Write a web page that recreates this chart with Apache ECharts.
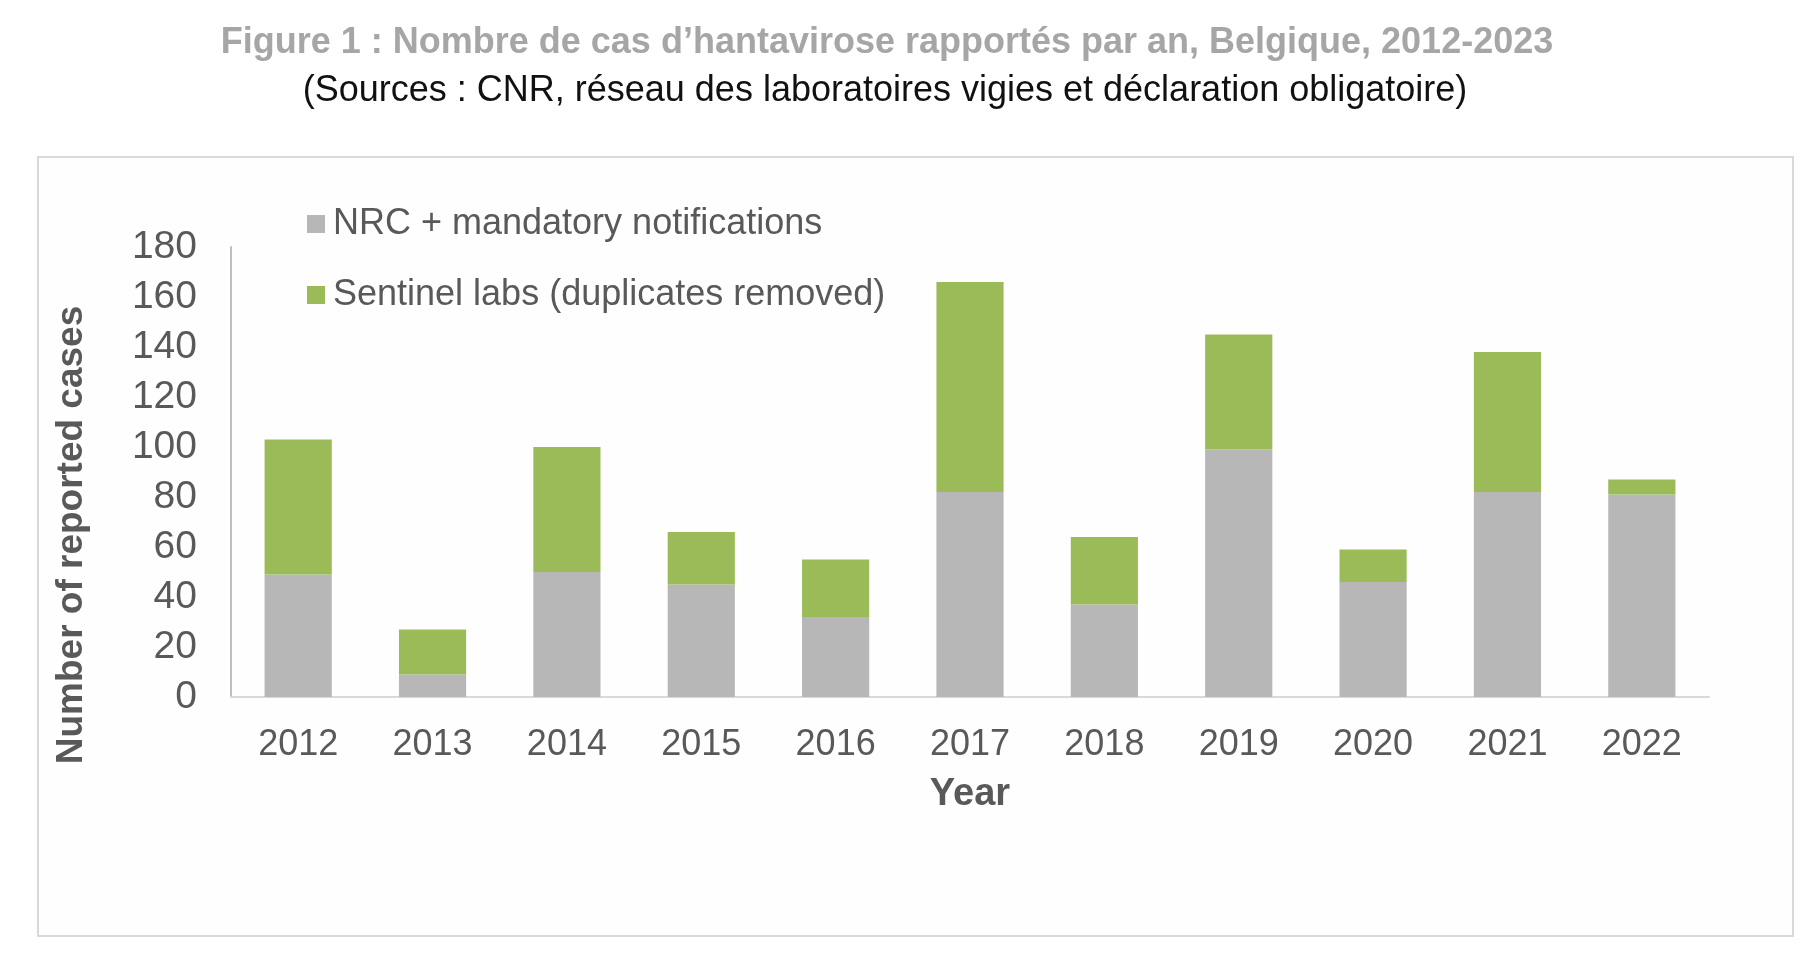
<!DOCTYPE html>
<html>
<head>
<meta charset="utf-8">
<style>
  html, body { margin: 0; padding: 0; background: #ffffff; }
  #chart { width: 1800px; height: 955px; }
</style>
<script src="https://cdn.jsdelivr.net/npm/echarts@6/dist/echarts.min.js"></script>
</head>
<body>
<div id="chart"></div>
<script>
const years = ['2012','2013','2014','2015','2016','2017','2018','2019','2020','2021','2022'];
const nrcMandatory = [49, 9, 50, 45, 32, 82, 37, 99, 46, 82, 81];
const sentinelLabs = [54, 18, 50, 21, 23, 84, 27, 46, 13, 56, 6];
const seriesNames = ['NRC + mandatory notifications', 'Sentinel labs (duplicates removed)'];
const yTicks = { min: 0, max: 180, interval: 20 };
const yAxisTitle = 'Number of reported cases';

const FONT = '"Liberation Sans", Arial, sans-serif';
const chart = echarts.init(document.getElementById('chart'), null, { renderer: 'canvas' });

chart.setOption({
  backgroundColor: '#ffffff',
  animation: false,
  graphic: [
    {
      type: 'rect',
      shape: { x: 38, y: 157, width: 1755, height: 779 },
      style: { fill: '#fefefe', stroke: '#d9d9d9', lineWidth: 2 },
      z: -10
    },
    {
      type: 'text',
      x: 72, y: 535,
      rotation: Math.PI / 2,
      style: {
        text: yAxisTitle,
        fontFamily: FONT, fontSize: 37, fontWeight: 'bold', fill: '#595959',
        align: 'center', verticalAlign: 'middle'
      }
    }
  ],
  title: [
    {
      text: 'Figure 1 : Nombre de cas d\u2019hantavirose rapportés par an, Belgique, 2012-2023',
      left: 882, top: 20, textAlign: 'center',
      textStyle: { fontFamily: FONT, fontSize: 36, fontWeight: 'bold', color: '#a6a6a6' }
    },
    {
      text: '(Sources : CNR, réseau des laboratoires vigies et déclaration obligatoire)',
      left: 880, top: 68, textAlign: 'center',
      textStyle: { fontFamily: FONT, fontSize: 36, fontWeight: 'normal', color: '#111111' }
    }
  ],
  legend: {
    orient: 'vertical',
    left: 307, top: 206,
    padding: 0,
    icon: 'rect',
    itemWidth: 18, itemHeight: 18,
    itemGap: 35,
    data: seriesNames,
    textStyle: { fontFamily: FONT, fontSize: 36, color: '#595959', padding: [0, 0, 0, 3] }
  },
  grid: { left: 231, right: 91, top: 247, bottom: 258, containLabel: false },
  xAxis: {
    type: 'category',
    data: years,
    name: 'Year',
    nameLocation: 'middle',
    nameGap: 79,
    nameTextStyle: { fontFamily: FONT, fontSize: 38, fontWeight: 'bold', color: '#595959' },
    axisLine: { lineStyle: { color: '#d9d9d9', width: 2 } },
    axisTick: { show: false },
    axisLabel: { fontFamily: FONT, fontSize: 36, color: '#595959', margin: 30 }
  },
  yAxis: {
    type: 'value',
    min: yTicks.min, max: yTicks.max, interval: yTicks.interval,
    axisLine: { show: true, lineStyle: { color: '#bfbfbf', width: 2 } },
    axisTick: { show: false },
    splitLine: { show: false },
    axisLabel: { fontFamily: FONT, fontSize: 39, color: '#595959', margin: 34 }
  },
  series: [
    {
      name: seriesNames[0], type: 'bar', stack: 'total', data: nrcMandatory,
      barWidth: '50%',
      itemStyle: { color: '#b7b7b7' }
    },
    {
      name: seriesNames[1], type: 'bar', stack: 'total', data: sentinelLabs,
      barWidth: '50%',
      itemStyle: { color: '#9bbb59' }
    }
  ]
});
</script>
</body>
</html>
